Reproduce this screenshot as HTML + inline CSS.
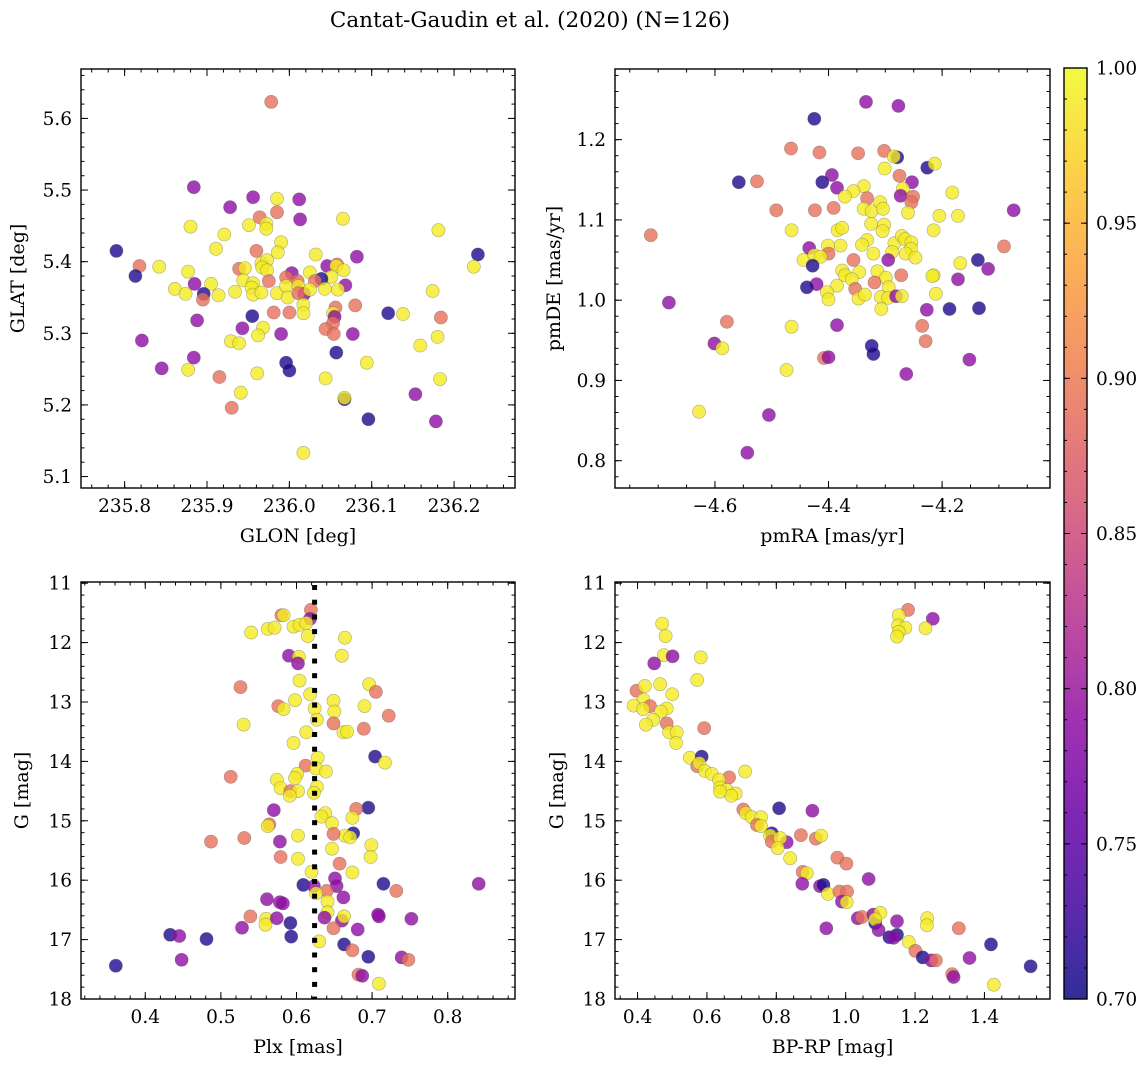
<!DOCTYPE html>
<html><head><meta charset="utf-8"><style>
html,body{margin:0;padding:0;background:#fff;}
svg{display:block;font-family:"DejaVu Serif","Liberation Serif",serif;}
</style></head><body>
<svg id="fig" width="1148" height="1067" viewBox="0 0 1148 1067" xmlns="http://www.w3.org/2000/svg">
<text x="530" y="27" font-size="21.5" text-anchor="middle">Cantat-Gaudin et al. (2020) (N=126)</text>
</svg>
<script>
// ---------- data ----------
const tlGlon=[235.978,235.884,235.956,235.985,236.012,235.928,235.964,235.985,236.013,236.065,235.880,235.951,235.972,235.972,236.181,235.921,235.990,235.911,235.960,235.986,235.790,236.032,236.082,236.229,235.818,235.842,236.224,235.813,235.877,235.939,235.946,235.966,235.973,235.967,235.973,236.046,236.058,236.057,236.066,236.003,236.025,236.051,235.885,235.905,235.861,235.874,235.896,235.895,235.914,235.934,235.944,235.956,235.954,235.956,235.966,235.975,235.996,236.010,236.039,236.031,236.068,235.985,235.996,235.998,236.011,236.018,236.011,236.025,236.043,236.059,236.174,236.080,236.056,236.017,236.017,236.053,236.055,236.053,235.981,236.000,235.955,235.888,236.120,236.138,236.184,235.943,235.968,235.962,236.044,236.054,236.077,235.990,235.821,235.929,235.939,236.180,236.159,236.057,235.884,235.996,236.000,236.094,235.845,235.877,235.915,235.961,236.044,236.183,235.941,236.153,236.067,236.067,235.930,236.096,236.178,236.017];
const tlGlat=[5.623,5.504,5.490,5.488,5.487,5.476,5.462,5.469,5.459,5.460,5.449,5.451,5.453,5.446,5.444,5.438,5.427,5.418,5.415,5.413,5.415,5.410,5.407,5.410,5.394,5.393,5.393,5.380,5.386,5.390,5.391,5.398,5.402,5.392,5.388,5.394,5.396,5.394,5.388,5.384,5.385,5.379,5.369,5.369,5.362,5.355,5.355,5.347,5.353,5.358,5.374,5.370,5.364,5.354,5.357,5.373,5.378,5.373,5.376,5.373,5.367,5.356,5.366,5.350,5.366,5.355,5.356,5.361,5.362,5.361,5.359,5.339,5.336,5.340,5.328,5.328,5.323,5.314,5.329,5.329,5.324,5.318,5.328,5.327,5.322,5.307,5.308,5.297,5.306,5.299,5.299,5.299,5.290,5.289,5.286,5.295,5.283,5.273,5.266,5.259,5.248,5.259,5.251,5.249,5.239,5.244,5.237,5.236,5.217,5.215,5.208,5.210,5.196,5.180,5.177,5.133];
const tlProb=[.89,.79,.79,.99,.79,.79,.89,.89,.79,.99,.99,.99,.99,.99,.99,.99,.99,.99,.89,.99,.71,.99,.79,.71,.89,.99,.99,.71,.99,.89,.99,.99,.99,.99,.99,.79,.89,.99,.99,.79,.99,.99,.79,.99,.99,.99,.71,.89,.99,.99,.99,.99,.99,.99,.99,.89,.89,.89,.71,.89,.79,.99,.99,.99,.99,.79,.89,.99,.99,.99,.99,.89,.89,.99,.99,.99,.79,.89,.89,.89,.71,.79,.71,.99,.89,.79,.99,.99,.89,.89,.79,.79,.79,.99,.99,.99,.99,.71,.79,.71,.71,.99,.79,.99,.89,.99,.99,.99,.99,.79,.71,.99,.89,.71,.79,.99];

const trPmra=[-4.334,-4.277,-4.425,-4.466,-4.416,-4.348,-4.302,-4.279,-4.285,-4.226,-4.213,-4.301,-4.394,-4.275,-4.558,-4.526,-4.411,-4.385,-4.253,-4.269,-4.273,-4.338,-4.356,-4.371,-4.332,-4.251,-4.254,-4.182,-4.074,-4.492,-4.424,-4.391,-4.338,-4.324,-4.309,-4.304,-4.260,-4.205,-4.172,-4.713,-4.465,-4.384,-4.376,-4.325,-4.302,-4.305,-4.215,-4.332,-4.341,-4.379,-4.401,-4.434,-4.444,-4.425,-4.400,-4.414,-4.428,-4.321,-4.284,-4.271,-4.265,-4.254,-4.288,-4.255,-4.264,-4.247,-4.295,-4.091,-4.137,-4.119,-4.168,-4.356,-4.376,-4.346,-4.371,-4.314,-4.299,-4.272,-4.215,-4.217,-4.172,-4.421,-4.438,-4.385,-4.359,-4.319,-4.294,-4.353,-4.403,-4.400,-4.347,-4.336,-4.308,-4.295,-4.281,-4.271,-4.307,-4.211,-4.227,-4.187,-4.135,-4.681,-4.579,-4.465,-4.385,-4.235,-4.229,-4.601,-4.587,-4.324,-4.321,-4.408,-4.400,-4.152,-4.263,-4.474,-4.628,-4.505,-4.543];
const trPmde=[1.247,1.242,1.226,1.189,1.184,1.183,1.186,1.178,1.179,1.165,1.170,1.164,1.156,1.155,1.147,1.148,1.147,1.140,1.147,1.139,1.130,1.142,1.136,1.129,1.127,1.129,1.122,1.134,1.112,1.112,1.112,1.115,1.114,1.111,1.122,1.114,1.109,1.105,1.105,1.081,1.087,1.087,1.090,1.095,1.094,1.086,1.087,1.075,1.069,1.068,1.068,1.065,1.050,1.056,1.058,1.054,1.043,1.058,1.071,1.080,1.076,1.072,1.060,1.064,1.058,1.053,1.050,1.067,1.050,1.039,1.046,1.050,1.037,1.035,1.031,1.036,1.028,1.031,1.031,1.030,1.026,1.020,1.016,1.018,1.026,1.022,1.016,1.014,1.010,1.001,1.002,1.007,1.004,1.003,1.005,1.005,0.989,1.008,0.988,0.989,0.990,0.997,0.973,0.967,0.969,0.968,0.949,0.946,0.940,0.943,0.933,0.928,0.929,0.926,0.908,0.913,0.861,0.857,0.810];
const trProb=[.79,.79,.71,.89,.89,.89,.89,.71,.99,.71,.99,.99,.79,.89,.71,.89,.71,.79,.79,.99,.79,.99,.99,.99,.89,.89,.89,.99,.79,.89,.89,.89,.99,.99,.99,.99,.99,.99,.99,.89,.99,.99,.99,.99,.99,.99,.99,.99,.99,.99,.99,.79,.99,.99,.89,.99,.71,.99,.99,.99,.99,.99,.99,.99,.99,.99,.79,.89,.71,.79,.99,.89,.99,.99,.99,.99,.99,.89,.99,.99,.79,.79,.71,.99,.99,.89,.99,.89,.99,.99,.99,.99,.99,.99,.79,.99,.99,.99,.79,.71,.71,.79,.89,.99,.79,.89,.89,.79,.99,.71,.71,.89,.79,.79,.79,.99,.99,.79,.79];

const blPlx=[0.619,0.618,0.580,0.583,0.540,0.562,0.571,0.596,0.604,0.613,0.615,0.664,0.590,0.603,0.602,0.660,0.604,0.526,0.696,0.705,0.618,0.598,0.649,0.576,0.583,0.624,0.690,0.650,0.722,0.627,0.530,0.649,0.689,0.613,0.662,0.667,0.596,0.628,0.704,0.717,0.612,0.626,0.639,0.513,0.601,0.574,0.598,0.579,0.592,0.602,0.591,0.627,0.623,0.570,0.695,0.679,0.638,0.633,0.674,0.647,0.564,0.562,0.675,0.664,0.671,0.649,0.602,0.487,0.531,0.578,0.699,0.647,0.698,0.579,0.602,0.657,0.674,0.620,0.609,0.623,0.651,0.653,0.715,0.841,0.732,0.640,0.626,0.662,0.561,0.578,0.582,0.641,0.641,0.539,0.560,0.559,0.574,0.592,0.637,0.660,0.663,0.708,0.709,0.752,0.528,0.649,0.681,0.433,0.445,0.481,0.593,0.630,0.663,0.674,0.695,0.739,0.748,0.361,0.448,0.682,0.687,0.709];
const blGmag=[11.45,11.60,11.54,11.54,11.83,11.77,11.75,11.73,11.70,11.67,11.89,11.92,12.22,12.24,12.35,12.22,12.64,12.75,12.70,12.83,12.87,12.97,12.98,13.07,13.12,13.11,13.07,13.16,13.23,13.30,13.38,13.36,13.45,13.51,13.51,13.50,13.69,13.94,13.92,14.02,14.07,14.12,14.17,14.26,14.21,14.31,14.28,14.45,14.50,14.50,14.58,14.43,14.53,14.82,14.78,14.80,14.87,14.93,14.95,15.04,15.06,15.09,15.21,15.25,15.28,15.22,15.25,15.35,15.29,15.35,15.41,15.47,15.61,15.61,15.64,15.72,15.87,15.86,16.08,16.10,15.97,16.10,16.06,16.06,16.18,16.18,16.22,16.29,16.32,16.37,16.39,16.36,16.54,16.61,16.65,16.75,16.64,16.72,16.63,16.68,16.61,16.58,16.61,16.65,16.80,16.81,16.83,16.92,16.94,16.99,16.95,17.03,17.08,17.18,17.29,17.30,17.34,17.44,17.34,17.59,17.61,17.74];
const blProb=[.89,.79,.89,.99,.99,.99,.99,.99,.99,.99,.99,.99,.79,.99,.79,.99,.99,.89,.99,.89,.99,.99,.99,.89,.99,.99,.99,.99,.89,.99,.99,.89,.89,.99,.99,.99,.99,.99,.71,.99,.89,.99,.99,.89,.99,.99,.99,.99,.89,.99,.99,.99,.99,.79,.71,.89,.99,.99,.99,.99,.89,.99,.71,.99,.99,.89,.99,.89,.89,.79,.99,.99,.99,.89,.99,.89,.99,.99,.71,.79,.79,.79,.71,.79,.89,.89,.99,.79,.79,.79,.79,.99,.99,.89,.99,.99,.79,.71,.79,.79,.99,.79,.79,.79,.79,.89,.79,.71,.79,.71,.71,.99,.71,.89,.71,.79,.89,.71,.79,.89,.79,.99];
const plxMean=[0.624];

const brBprp=[0.471,0.481,0.476,0.501,0.448,0.582,0.572,0.465,0.397,0.421,0.500,0.417,0.389,0.436,0.416,0.484,0.467,0.445,0.424,0.484,0.592,0.491,0.513,0.511,0.551,0.585,0.572,0.578,0.594,0.614,0.664,0.710,0.635,0.638,0.657,0.683,0.670,0.638,0.808,0.904,0.705,0.712,0.729,0.756,0.744,0.756,0.787,0.782,0.787,0.830,0.811,0.804,0.871,0.914,0.929,0.840,0.976,1.002,0.876,0.888,0.875,0.926,0.936,0.949,1.066,0.982,1.004,0.989,1.003,1.035,1.047,1.085,1.080,1.100,1.085,1.095,1.148,0.944,1.126,1.148,1.138,1.235,1.234,1.326,1.182,1.201,1.222,1.247,1.260,1.357,1.419,1.533,1.307,1.311,1.427,1.180,1.153,1.251,1.151,1.172,1.153,1.230,1.148];
const brGmag=[11.68,11.89,12.21,12.23,12.35,12.25,12.63,12.70,12.81,12.73,12.87,12.96,13.06,13.07,13.12,13.11,13.16,13.30,13.38,13.36,13.44,13.51,13.51,13.69,13.94,13.92,14.08,14.03,14.16,14.21,14.27,14.17,14.31,14.44,14.48,14.54,14.58,14.51,14.79,14.83,14.81,14.87,14.94,14.94,15.07,15.09,15.21,15.25,15.35,15.36,15.29,15.46,15.24,15.30,15.25,15.63,15.62,15.72,15.86,15.88,16.06,16.10,16.08,16.23,15.98,16.19,16.19,16.36,16.37,16.64,16.62,16.72,16.58,16.55,16.66,16.84,16.69,16.81,16.96,16.92,16.97,16.64,16.76,16.81,17.04,17.19,17.30,17.35,17.35,17.31,17.08,17.45,17.58,17.63,17.76,11.45,11.54,11.60,11.71,11.75,11.82,11.76,11.90];
const brProb=[.99,.99,.99,.79,.79,.99,.99,.99,.89,.99,.99,.99,.99,.89,.99,.99,.99,.99,.99,.89,.89,.99,.99,.99,.99,.71,.89,.99,.99,.99,.89,.99,.99,.99,.99,.99,.99,.99,.71,.79,.89,.99,.99,.99,.89,.99,.71,.99,.89,.79,.99,.99,.89,.89,.99,.99,.89,.89,.89,.99,.79,.79,.71,.99,.79,.89,.89,.79,.99,.79,.89,.71,.79,.99,.99,.79,.79,.79,.71,.71,.79,.99,.99,.89,.99,.89,.71,.79,.89,.79,.71,.71,.89,.79,.99,.89,.99,.79,.99,.99,.99,.99,.99];

const tlXTicks=[235.8,235.9,236.0,236.1,236.2];
const tlYTicks=[5.1,5.2,5.3,5.4,5.5,5.6];
const trXTicks=[-4.6,-4.4,-4.2];
const trYTicks=[0.8,0.9,1.0,1.1,1.2];
const blXTicks=[0.4,0.5,0.6,0.7,0.8];
const gTicks=[11,12,13,14,15,16,17,18];
const brXTicks=[0.4,0.6,0.8,1.0,1.2,1.4];
const cbTicks=[0.70,0.75,0.80,0.85,0.90,0.95,1.00];

// ---------- helpers ----------
const NS="http://www.w3.org/2000/svg";
const svg=document.getElementById("fig");
function mk(tag,attrs,parent){const e=document.createElementNS(NS,tag);for(const k in attrs)e.setAttribute(k,attrs[k]);(parent||svg).appendChild(e);return e;}
const stops=[[13,8,135],[65,4,157],[106,0,168],[143,13,164],[177,42,144],[204,71,120],[225,100,98],[242,132,75],[252,166,54],[252,206,37],[240,249,33]];
function plasma(t){t=Math.max(0,Math.min(1,t));const f=t*10,i=Math.min(9,Math.floor(f)),u=f-i;const a=stops[i],b=stops[i+1];return "rgb("+a.map((v,k)=>Math.round(v+(b[k]-v)*u)).join(",")+")";}
const vmin=0.70,vmax=1.00;
const TFS=18.5, LFS=19;

function panel(cfg,xs,ys,cs){
  const g=mk("g",{});
  
  
  const sx=v=>cfg.x0+(v-cfg.xd[0])/(cfg.xd[1]-cfg.xd[0])*(cfg.x1-cfg.x0);
  const sy=cfg.inv? v=>cfg.y0+(v-cfg.yd[0])/(cfg.yd[1]-cfg.yd[0])*(cfg.y1-cfg.y0)
                  : v=>cfg.y1-(v-cfg.yd[0])/(cfg.yd[1]-cfg.yd[0])*(cfg.y1-cfg.y0);
  const clip="clip-"+cfg.name;
  const cp=mk("clipPath",{id:clip},g);
  mk("rect",{x:cfg.x0,y:cfg.y0,width:cfg.x1-cfg.x0,height:cfg.y1-cfg.y0},cp);
  const pts=mk("g",{"clip-path":"url(#"+clip+")"},g);
  for(let i=0;i<xs.length;i++){
    const c=mk("circle",{cx:sx(xs[i]).toFixed(1),cy:sy(ys[i]).toFixed(1),r:6.6,fill:plasma((cs[i]-vmin)/(vmax-vmin)),"fill-opacity":0.8,stroke:"#555","stroke-opacity":0.45,"stroke-width":0.6},pts);
    
    
  }
  if(cfg.vline){
    const vx=sx(cfg.vline[0]);
    const vg=mk("g",{fill:"#000"},g);
    
    
    for(let y=cfg.y0+3;y<cfg.y1-1;y+=14.7){
      mk("rect",{x:(vx-2.5).toFixed(1),y:y.toFixed(1),width:5,height:Math.min(5,cfg.y1-y).toFixed(1)},vg);
    }
  }
  const tk=mk("g",{stroke:"#000","stroke-width":1},g);
  function xtick(v,len){const x=sx(v);if(x<cfg.x0+0.5||x>cfg.x1-0.5)return;mk("line",{x1:x,x2:x,y1:cfg.y1,y2:cfg.y1-len},tk);mk("line",{x1:x,x2:x,y1:cfg.y0,y2:cfg.y0+len},tk);}
  function ytick(v,len){const y=sy(v);if(y<cfg.y0+0.5||y>cfg.y1-0.5)return;mk("line",{x1:cfg.x0,x2:cfg.x0+len,y1:y,y2:y},tk);mk("line",{x1:cfg.x1,x2:cfg.x1-len,y1:y,y2:y},tk);}
  const lo=Math.ceil(cfg.xd[0]/cfg.xm-1e-6),hi=Math.floor(cfg.xd[1]/cfg.xm+1e-6);
  for(let k=lo;k<=hi;k++)xtick(k*cfg.xm,3.5);
  const ylo=Math.ceil(cfg.yd[0]/cfg.ym-1e-6),yhi=Math.floor(cfg.yd[1]/cfg.ym+1e-6);
  for(let k=ylo;k<=yhi;k++)ytick(k*cfg.ym,3.5);
  cfg.xt.forEach(v=>{xtick(v,7);const t=mk("text",{x:sx(v),y:cfg.y1+24,"font-size":TFS,"text-anchor":"middle"},g);t.textContent=(v<0?"\u2212":"")+Math.abs(v).toFixed(cfg.xdec);});
  cfg.yt.forEach(v=>{ytick(v,7);const t=mk("text",{x:cfg.x0-9,y:sy(v)+6.5,"font-size":TFS,"text-anchor":"end"},g);t.textContent=v.toFixed(cfg.ydec);});
  const fr=mk("rect",{x:cfg.x0,y:cfg.y0,width:cfg.x1-cfg.x0,height:cfg.y1-cfg.y0,fill:"none",stroke:"#000","stroke-width":1.4},g);
  
  
  const xl=mk("text",{x:(cfg.x0+cfg.x1)/2,y:cfg.y1+54,"font-size":LFS,"text-anchor":"middle"},g);
  xl.textContent=cfg.xlabel;
  
  
  const cy=(cfg.y0+cfg.y1)/2;
  const yl=mk("text",{x:cfg.ylx,y:cy,"font-size":LFS,"text-anchor":"middle",transform:"rotate(-90 "+cfg.ylx+" "+cy+")"},g);
  yl.textContent=cfg.ylabel;
  
  
}

panel({name:"panel-glon-glat",x0:81,x1:515,y0:69,y1:488,xd:[235.747,236.274],yd:[5.084,5.669],xt:tlXTicks,yt:tlYTicks,xm:0.02,ym:0.02,xdec:1,ydec:1,xlabel:"GLON [deg]",ylabel:"GLAT [deg]",ylx:24},tlGlon,tlGlat,tlProb);
panel({name:"panel-proper-motion",x0:615,x1:1050,y0:69,y1:488,xd:[-4.776,-4.010],yd:[0.766,1.288],xt:trXTicks,yt:trYTicks,xm:0.05,ym:0.02,xdec:1,ydec:1,xlabel:"pmRA [mas/yr]",ylabel:"pmDE [mas/yr]",ylx:560},trPmra,trPmde,trProb);
panel({name:"panel-plx-g",x0:81,x1:515,y0:582,y1:999,xd:[0.315,0.889],yd:[10.98,18.0],inv:true,xt:blXTicks,yt:gTicks,xm:0.02,ym:0.2,xdec:1,ydec:0,xlabel:"Plx [mas]",ylabel:"G [mag]",ylx:28,vline:plxMean},blPlx,blGmag,blProb);
panel({name:"panel-cmd",x0:615,x1:1050,y0:582,y1:999,xd:[0.335,1.589],yd:[10.98,18.0],inv:true,xt:brXTicks,yt:gTicks,xm:0.05,ym:0.2,xdec:1,ydec:0,xlabel:"BP-RP [mag]",ylabel:"G [mag]",ylx:563},brBprp,brGmag,brProb);

// colorbar
const cb=mk("g",{});


const defs=mk("defs",{},cb);
const lg=mk("linearGradient",{id:"plasmaGrad",x1:0,y1:1,x2:0,y2:0},defs);
for(let i=0;i<=20;i++)mk("stop",{offset:(i/20),"stop-color":plasma(i/20),"stop-opacity":0.85},lg);
const cbx0=1064,cbx1=1087,cby0=68,cby1=999;
mk("rect",{x:cbx0,y:cby0,width:cbx1-cbx0,height:cby1-cby0,fill:"url(#plasmaGrad)"},cb);
const cys=v=>cby1-(v-vmin)/(vmax-vmin)*(cby1-cby0);
for(let k=70;k<=100;k++){const y=cys(k/100);mk("line",{x1:cbx1,x2:cbx1-3,y1:y,y2:y,stroke:"#000","stroke-width":1},cb);mk("line",{x1:cbx0,x2:cbx0+3,y1:y,y2:y,stroke:"#000","stroke-width":1},cb);}
cbTicks.forEach(v=>{const y=cys(v);mk("line",{x1:cbx1,x2:cbx1-6,y1:y,y2:y,stroke:"#000","stroke-width":1},cb);mk("line",{x1:cbx0,x2:cbx0+6,y1:y,y2:y,stroke:"#000","stroke-width":1},cb);
  const t=mk("text",{x:cbx1+9,y:y+6.5,"font-size":TFS},cb);t.textContent=v.toFixed(2);
  
  });
mk("rect",{x:cbx0,y:cby0,width:cbx1-cbx0,height:cby1-cby0,fill:"none",stroke:"#000","stroke-width":1.4},cb);
</script>
</body></html>
